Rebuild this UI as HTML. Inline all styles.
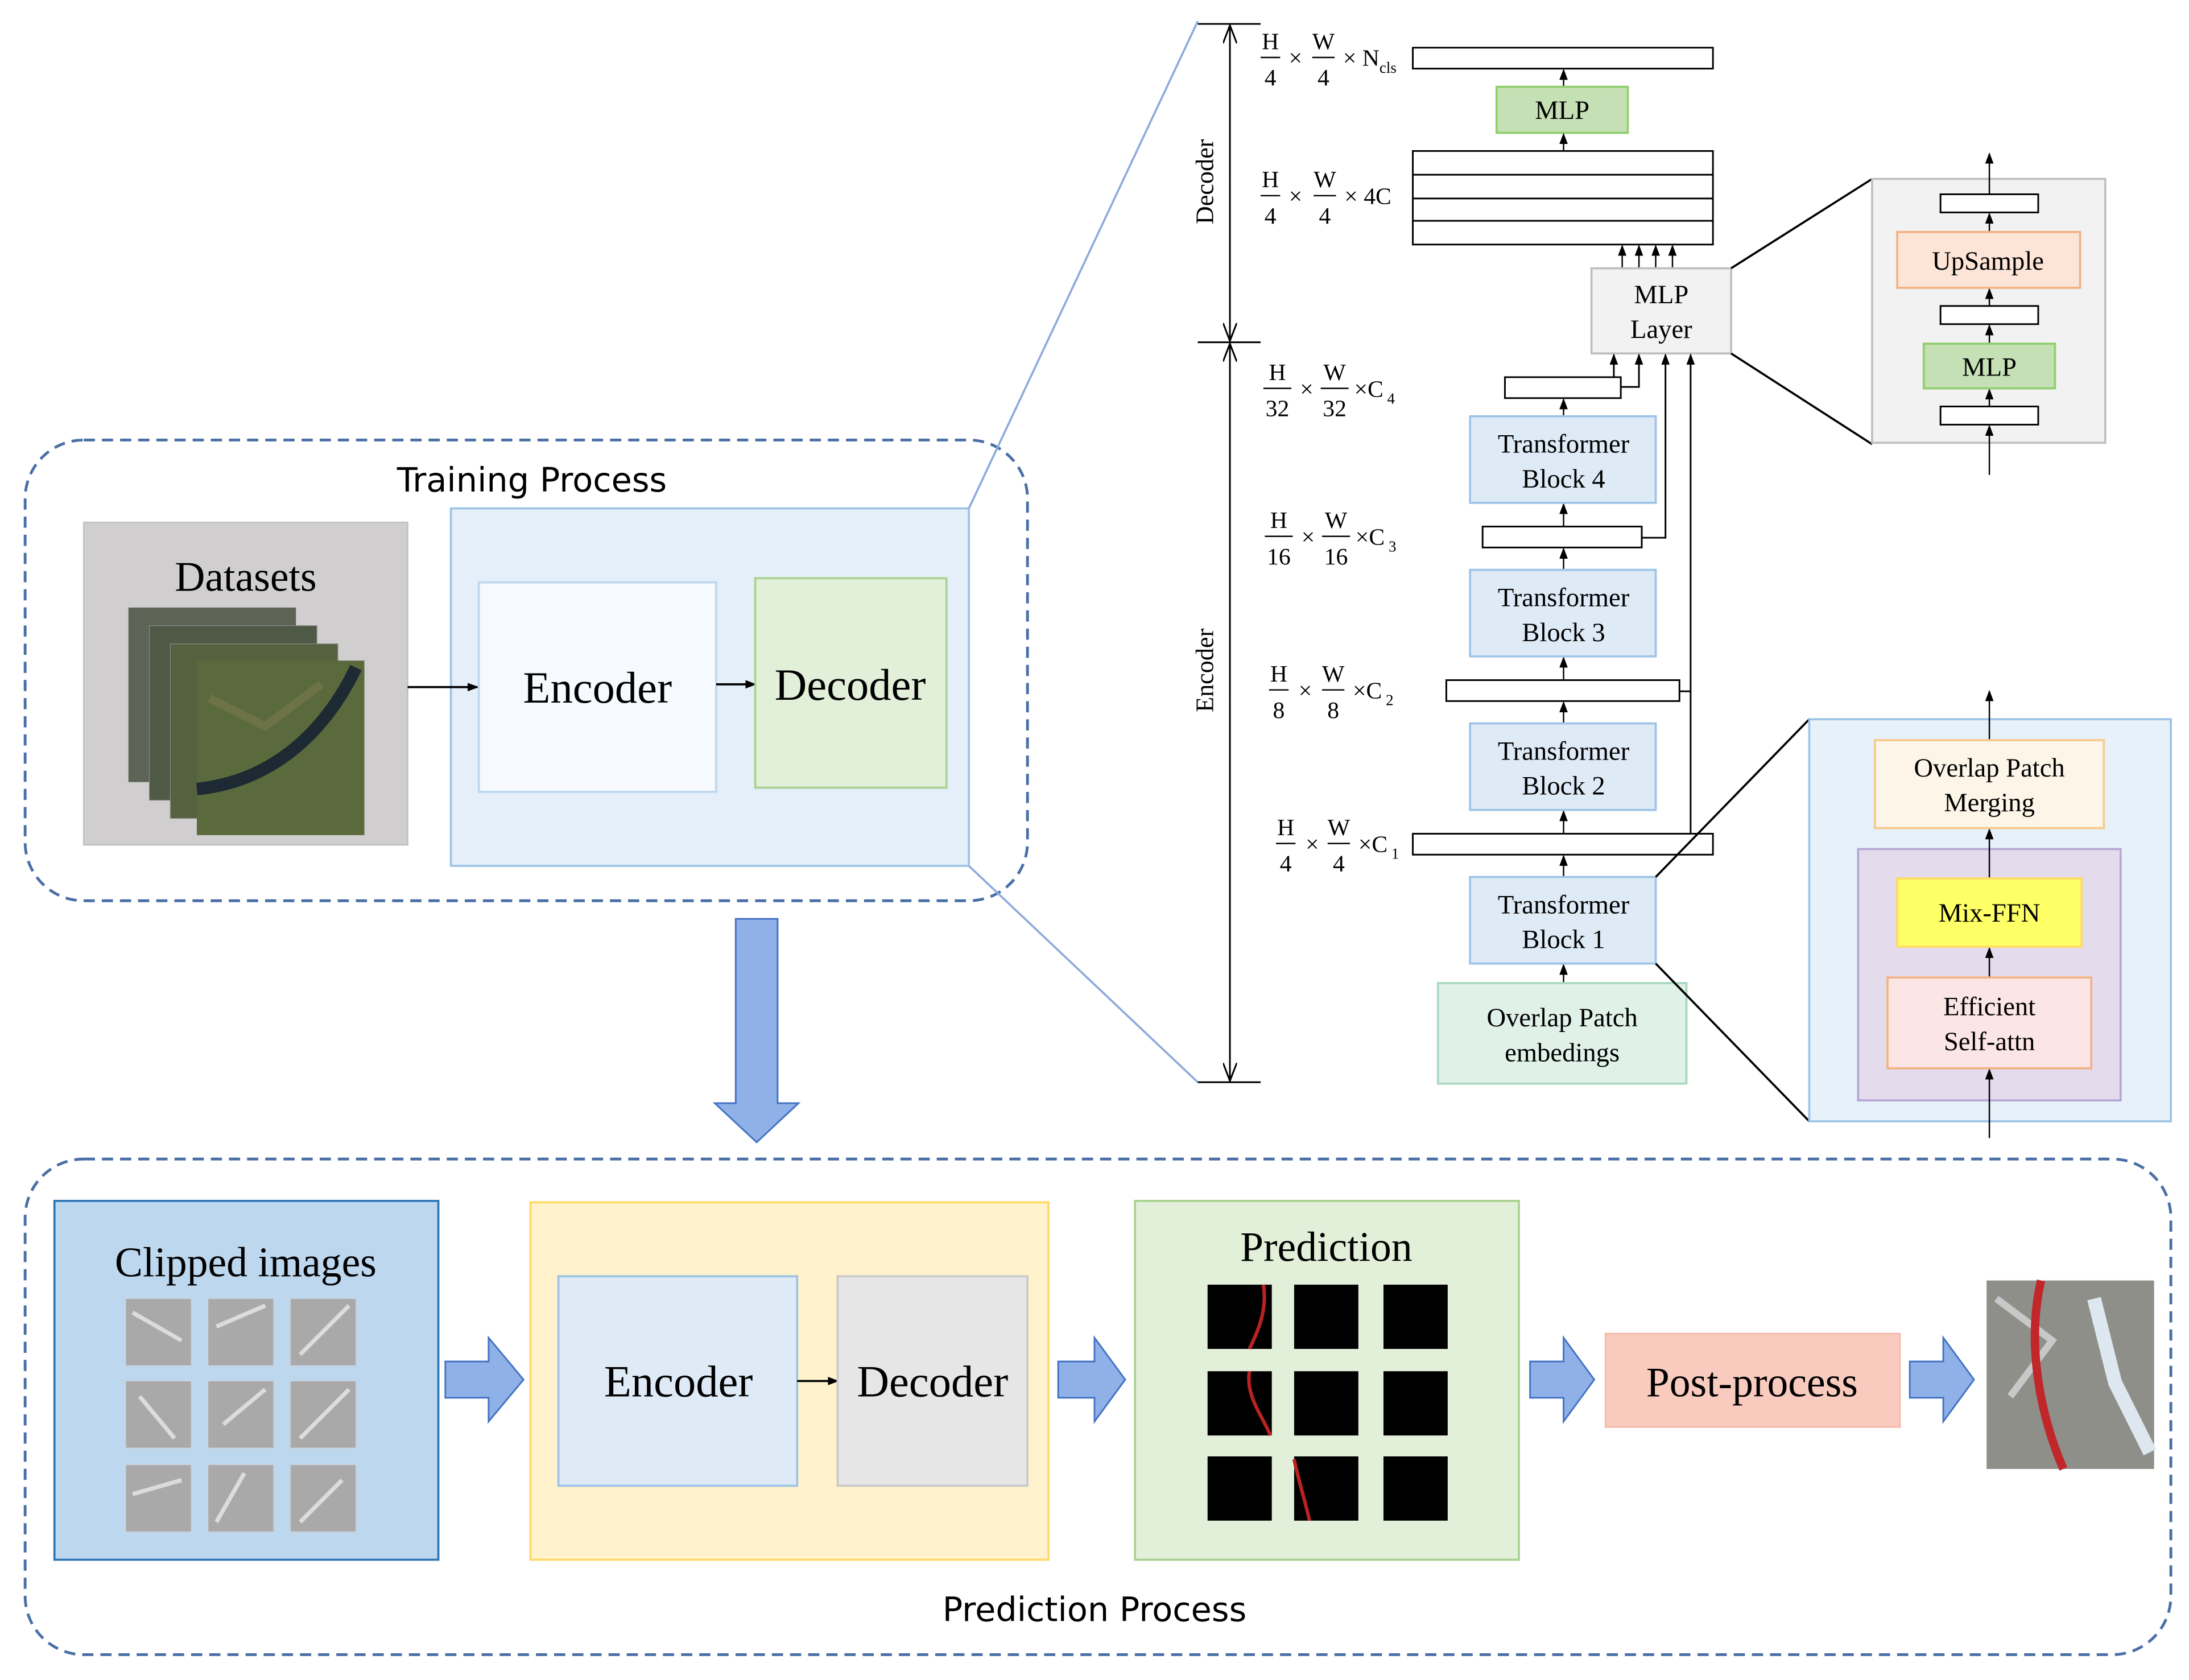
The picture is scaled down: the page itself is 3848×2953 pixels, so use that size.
<!DOCTYPE html>
<html><head><meta charset="utf-8"><style>
html,body{margin:0;padding:0;background:#fff}
svg{display:block}
.s{font-family:"Liberation Serif",serif}
.a{font-family:"DejaVu Sans","Liberation Sans",sans-serif}
</style></head><body>
<svg width="3848" height="2953" viewBox="0 0 1568 1203" xmlns="http://www.w3.org/2000/svg">
<defs>
<marker id="ar" markerWidth="8" markerHeight="8" refX="7" refY="4" orient="auto" markerUnits="userSpaceOnUse"><path d="M0,1 L8,4 L0,7 z" fill="#000"/></marker>
<marker id="ar2" markerWidth="14" markerHeight="10" refX="13" refY="5" orient="auto" markerUnits="userSpaceOnUse"><path d="M0,0 L13,5 L0,10" fill="none" stroke="#000" stroke-width="1.2"/></marker>
</defs>
<rect width="1568" height="1203" fill="#fff"/>

<!-- Training process -->
<rect x="18" y="315" width="718" height="330" rx="42" fill="none" stroke="#4a6fa5" stroke-width="2" stroke-dasharray="8,5"/>
<text x="381" y="352" class="a" font-size="24" text-anchor="middle">Training Process</text>
<rect x="60" y="374" width="232" height="231" fill="#d0cece" stroke="#bfbfbf"/>
<text x="176" y="423" class="s" font-size="30" text-anchor="middle">Datasets</text>
<g>
<rect x="92" y="435" width="120" height="125" fill="#5d6456"/>
<rect x="107" y="448" width="120" height="125" fill="#4e5a45" stroke="#888" stroke-width="0.5"/>
<rect x="122" y="461" width="120" height="125" fill="#56613f" stroke="#888" stroke-width="0.5"/>
<rect x="141" y="473" width="120" height="125" fill="#5a6a3c"/>
<path d="M141,565 C190,560 230,530 255,478" stroke="#1d2a33" stroke-width="9" fill="none"/>
<path d="M150,500 L190,520 L230,490" stroke="#7b7a4e" stroke-width="6" fill="none" opacity="0.6"/>
</g>
<rect x="323" y="364" width="371" height="256" fill="#e4effa" stroke="#9dc3e6" stroke-width="1.5"/>
<line x1="292" y1="492" x2="342" y2="492" stroke="#000" stroke-width="1.5" marker-end="url(#ar)"/>
<rect x="343" y="417" width="170" height="150" fill="#f6fafe" stroke="#bdd7ee" stroke-width="1.5"/>
<text x="428" y="503" class="s" font-size="32" text-anchor="middle">Encoder</text>
<line x1="513" y1="490" x2="541" y2="490" stroke="#000" stroke-width="1.5" marker-end="url(#ar)"/>
<rect x="541" y="414" width="137" height="150" fill="#e2efd9" stroke="#a9d18e" stroke-width="1.5"/>
<text x="609" y="501" class="s" font-size="32" text-anchor="middle">Decoder</text>
<line x1="694" y1="364" x2="858" y2="15" stroke="#8faadc" stroke-width="1.5"/>
<line x1="694" y1="620" x2="858" y2="775" stroke="#8faadc" stroke-width="1.5"/>

<polygon points="527,658 557,658 557,790 572,790 542,818 512,790 527,790" fill="#8fb1e8" stroke="#4472c4" stroke-width="1.2"/>

<!-- Prediction process -->
<rect x="18" y="830" width="1537" height="355" rx="42" fill="none" stroke="#4a6fa5" stroke-width="2" stroke-dasharray="8,5"/>
<text x="784" y="1161" class="a" font-size="24" text-anchor="middle">Prediction Process</text>
<rect x="39" y="860" width="275" height="257" fill="#bdd7ee" stroke="#2e75b6" stroke-width="1.5"/>
<text x="176" y="914" class="s" font-size="30" text-anchor="middle">Clipped images</text>
<g fill="#a9a9a9" stroke="#d0d0d0" stroke-width="0.5">
<rect x="90" y="930" width="47" height="48"/><rect x="149" y="930" width="47" height="48"/><rect x="208" y="930" width="47" height="48"/>
<rect x="90" y="989" width="47" height="48"/><rect x="149" y="989" width="47" height="48"/><rect x="208" y="989" width="47" height="48"/>
<rect x="90" y="1049" width="47" height="48"/><rect x="149" y="1049" width="47" height="48"/><rect x="208" y="1049" width="47" height="48"/>
</g>
<g stroke="#e8e8e8" stroke-width="3" fill="none" opacity="0.8">
<path d="M95,940 L130,960"/><path d="M155,950 L190,935"/><path d="M215,970 L250,935"/>
<path d="M100,1000 L125,1030"/><path d="M160,1020 L190,995"/><path d="M215,1030 L250,995"/>
<path d="M95,1070 L130,1060"/><path d="M155,1090 L175,1055"/><path d="M215,1090 L245,1060"/>
</g>
<polygon points="319,975 350,975 350,958 375,988 350,1018 350,1001 319,1001" fill="#8fb1e8" stroke="#4472c4" stroke-width="1.2"/>
<rect x="380" y="861" width="371" height="256" fill="#fff2cc" stroke="#ffd966" stroke-width="1.5"/>
<rect x="400" y="914" width="171" height="150" fill="#deebf7" stroke="#9dc3e6" stroke-width="1.5"/>
<text x="486" y="1000" class="s" font-size="32" text-anchor="middle">Encoder</text>
<line x1="571" y1="989" x2="600" y2="989" stroke="#000" stroke-width="1.5" marker-end="url(#ar)"/>
<rect x="600" y="914" width="136" height="150" fill="#e7e6e6" stroke="#c9c9c9" stroke-width="1.5"/>
<text x="668" y="1000" class="s" font-size="32" text-anchor="middle">Decoder</text>
<polygon points="758,975 784,975 784,958 806,988 784,1018 784,1001 758,1001" fill="#8fb1e8" stroke="#4472c4" stroke-width="1.2"/>
<rect x="813" y="860" width="275" height="257" fill="#e2efd9" stroke="#a9d18e" stroke-width="1.5"/>
<text x="950" y="903" class="s" font-size="30" text-anchor="middle">Prediction</text>
<g fill="#000">
<rect x="865" y="920" width="46" height="46"/><rect x="927" y="920" width="46" height="46"/><rect x="991" y="920" width="46" height="46"/>
<rect x="865" y="982" width="46" height="46"/><rect x="927" y="982" width="46" height="46"/><rect x="991" y="982" width="46" height="46"/>
<rect x="865" y="1043" width="46" height="46"/><rect x="927" y="1043" width="46" height="46"/><rect x="991" y="1043" width="46" height="46"/>
</g>
<g stroke="#b22" stroke-width="2.5" fill="none">
<path d="M905,920 C908,940 900,955 895,966"/><path d="M895,982 C892,1000 905,1015 910,1028"/><path d="M927,1045 C930,1060 935,1075 938,1089"/>
</g>
<polygon points="1096,975 1120,975 1120,958 1142,988 1120,1018 1120,1001 1096,1001" fill="#8fb1e8" stroke="#4472c4" stroke-width="1.2"/>
<rect x="1150" y="955" width="211" height="67" fill="#f9cbbf" stroke="#f4b6a6" stroke-width="1"/>
<text x="1255" y="1000" class="s" font-size="30" text-anchor="middle">Post-process</text>
<polygon points="1368,975 1392,975 1392,958 1414,988 1392,1018 1392,1001 1368,1001" fill="#8fb1e8" stroke="#4472c4" stroke-width="1.2"/>
<rect x="1423" y="917" width="120" height="135" fill="#8f8f8a"/>
<path d="M1430,930 L1470,960 L1440,1000" stroke="#c8c8c8" stroke-width="5" fill="none"/>
<path d="M1500,930 L1515,990 L1540,1040" stroke="#dce7ef" stroke-width="10" fill="none"/>
<path d="M1462,917 C1452,960 1460,1010 1478,1052" stroke="#c0262a" stroke-width="6" fill="none"/>

<!-- axis -->
<line x1="858" y1="17" x2="903" y2="17" stroke="#000" stroke-width="1.2"/>
<line x1="858" y1="245" x2="903" y2="245" stroke="#000" stroke-width="1.2"/>
<line x1="858" y1="775" x2="903" y2="775" stroke="#000" stroke-width="1.2"/>
<line x1="881" y1="130" x2="881" y2="18" stroke="#000" stroke-width="1.2" marker-end="url(#ar2)"/>
<line x1="881" y1="130" x2="881" y2="244" stroke="#000" stroke-width="1.2" marker-end="url(#ar2)"/>
<line x1="881" y1="500" x2="881" y2="246" stroke="#000" stroke-width="1.2" marker-end="url(#ar2)"/>
<line x1="881" y1="500" x2="881" y2="774" stroke="#000" stroke-width="1.2" marker-end="url(#ar2)"/>
<text transform="translate(869,130) rotate(-90)" class="s" font-size="18" text-anchor="middle">Decoder</text>
<text transform="translate(869,480) rotate(-90)" class="s" font-size="18" text-anchor="middle">Encoder</text>

<!-- Decoder stack -->
<rect x="1012" y="34" width="215" height="15" fill="#fff" stroke="#000" stroke-width="1.2"/>
<line x1="1120" y1="62" x2="1120" y2="50" stroke="#000" marker-end="url(#ar)"/>
<rect x="1072" y="62" width="94" height="33" fill="#c5e0b4" stroke="#8fcf6e" stroke-width="1.5"/>
<text x="1119" y="85" class="s" font-size="19" text-anchor="middle">MLP</text>
<line x1="1120" y1="108" x2="1120" y2="96" stroke="#000" marker-end="url(#ar)"/>
<rect x="1012" y="108" width="215" height="67" fill="#fff" stroke="#000" stroke-width="1.2"/>
<line x1="1012" y1="125" x2="1227" y2="125" stroke="#000" stroke-width="1.2"/>
<line x1="1012" y1="142" x2="1227" y2="142" stroke="#000" stroke-width="1.2"/>
<line x1="1012" y1="158" x2="1227" y2="158" stroke="#000" stroke-width="1.2"/>
<g stroke="#000">
<line x1="1162" y1="192" x2="1162" y2="176" marker-end="url(#ar)"/>
<line x1="1174" y1="192" x2="1174" y2="176" marker-end="url(#ar)"/>
<line x1="1186" y1="192" x2="1186" y2="176" marker-end="url(#ar)"/>
<line x1="1198" y1="192" x2="1198" y2="176" marker-end="url(#ar)"/>
</g>
<rect x="1140" y="192" width="100" height="61" fill="#f2f2f2" stroke="#bfbfbf" stroke-width="1.5"/>
<text x="1190" y="217" class="s" font-size="19" text-anchor="middle">MLP</text>
<text x="1190" y="242" class="s" font-size="19" text-anchor="middle">Layer</text>
<line x1="1240" y1="192" x2="1341" y2="128" stroke="#000" stroke-width="1.5"/>
<line x1="1240" y1="253" x2="1341" y2="318" stroke="#000" stroke-width="1.5"/>

<rect x="1341" y="128" width="167" height="189" fill="#f2f2f2" stroke="#bfbfbf" stroke-width="1.5"/>
<g stroke="#000">
<line x1="1425" y1="340" x2="1425" y2="305" marker-end="url(#ar)"/>
<line x1="1425" y1="291" x2="1425" y2="279" marker-end="url(#ar)"/>
<line x1="1425" y1="246" x2="1425" y2="233" marker-end="url(#ar)"/>
<line x1="1425" y1="219" x2="1425" y2="207" marker-end="url(#ar)"/>
<line x1="1425" y1="166" x2="1425" y2="153" marker-end="url(#ar)"/>
<line x1="1425" y1="139" x2="1425" y2="110" marker-end="url(#ar)"/>
</g>
<rect x="1390" y="139" width="70" height="13" fill="#fff" stroke="#000" stroke-width="1.2"/>
<rect x="1359" y="166" width="131" height="40" fill="#fce4d6" stroke="#f4b183" stroke-width="1.5"/>
<text x="1424" y="193" class="s" font-size="19" text-anchor="middle">UpSample</text>
<rect x="1390" y="219" width="70" height="13" fill="#fff" stroke="#000" stroke-width="1.2"/>
<rect x="1378" y="246" width="94" height="32" fill="#c5e0b4" stroke="#8fcf6e" stroke-width="1.5"/>
<text x="1425" y="269" class="s" font-size="19" text-anchor="middle">MLP</text>
<rect x="1390" y="291" width="70" height="13" fill="#fff" stroke="#000" stroke-width="1.2"/>

<!-- Encoder stack -->
<g stroke="#000" stroke-width="1.2">
<line x1="1156" y1="270" x2="1156" y2="254" marker-end="url(#ar)"/>
<polyline points="1161,277 1174,277 1174,254" fill="none" marker-end="url(#ar)"/>
<polyline points="1176,385 1193,385 1193,254" fill="none" marker-end="url(#ar)"/>
<polyline points="1203,495 1211,495 1211,254" fill="none" marker-end="url(#ar)"/>
<line x1="1211" y1="597" x2="1211" y2="495"/>
</g>
<rect x="1078" y="270" width="83" height="15" fill="#fff" stroke="#000" stroke-width="1.2"/>
<rect x="1062" y="377" width="114" height="15" fill="#fff" stroke="#000" stroke-width="1.2"/>
<rect x="1036" y="487" width="167" height="15" fill="#fff" stroke="#000" stroke-width="1.2"/>
<rect x="1012" y="597" width="215" height="15" fill="#fff" stroke="#000" stroke-width="1.2"/>
<g stroke="#000">
<line x1="1120" y1="298" x2="1120" y2="286" marker-end="url(#ar)"/>
<line x1="1120" y1="377" x2="1120" y2="361" marker-end="url(#ar)"/>
<line x1="1120" y1="408" x2="1120" y2="393" marker-end="url(#ar)"/>
<line x1="1120" y1="487" x2="1120" y2="471" marker-end="url(#ar)"/>
<line x1="1120" y1="518" x2="1120" y2="503" marker-end="url(#ar)"/>
<line x1="1120" y1="597" x2="1120" y2="581" marker-end="url(#ar)"/>
<line x1="1120" y1="628" x2="1120" y2="613" marker-end="url(#ar)"/>
<line x1="1120" y1="704" x2="1120" y2="691" marker-end="url(#ar)"/>
</g>
<g fill="#deebf7" stroke="#9dc3e6" stroke-width="1.5">
<rect x="1053" y="298" width="133" height="62"/>
<rect x="1053" y="408" width="133" height="62"/>
<rect x="1053" y="518" width="133" height="62"/>
<rect x="1053" y="628" width="133" height="62"/>
</g>
<g class="s" font-size="19" text-anchor="middle">
<text x="1120" y="324">Transformer</text><text x="1120" y="349">Block 4</text>
<text x="1120" y="434">Transformer</text><text x="1120" y="459">Block 3</text>
<text x="1120" y="544">Transformer</text><text x="1120" y="569">Block 2</text>
<text x="1120" y="654">Transformer</text><text x="1120" y="679">Block 1</text>
</g>
<rect x="1030" y="704" width="178" height="72" fill="#dff1e8" stroke="#a8d8c0" stroke-width="1.5"/>
<text x="1119" y="735" class="s" font-size="19" text-anchor="middle">Overlap Patch</text>
<text x="1119" y="760" class="s" font-size="19" text-anchor="middle">embedings</text>
<line x1="1186" y1="628" x2="1296" y2="515" stroke="#000" stroke-width="1.5"/>
<line x1="1186" y1="690" x2="1296" y2="803" stroke="#000" stroke-width="1.5"/>

<rect x="1296" y="515" width="259" height="288" fill="#e6f1fa" stroke="#9dc3e6" stroke-width="1.5"/>
<rect x="1331" y="608" width="188" height="180" fill="#e4dcec" stroke="#b4a7d6" stroke-width="1.5"/>
<g stroke="#000">
<line x1="1425" y1="815" x2="1425" y2="766" marker-end="url(#ar)"/>
<line x1="1425" y1="700" x2="1425" y2="679" marker-end="url(#ar)"/>
<line x1="1425" y1="629" x2="1425" y2="594" marker-end="url(#ar)"/>
<line x1="1425" y1="530" x2="1425" y2="495" marker-end="url(#ar)"/>
</g>
<rect x="1343" y="530" width="164" height="63" fill="#fdf6e8" stroke="#f6c98b" stroke-width="1.5"/>
<text x="1425" y="556" class="s" font-size="19" text-anchor="middle">Overlap Patch</text>
<text x="1425" y="581" class="s" font-size="19" text-anchor="middle">Merging</text>
<rect x="1359" y="629" width="132" height="49" fill="#ffff66" stroke="#ffd966" stroke-width="1.5"/>
<text x="1425" y="660" class="s" font-size="19" text-anchor="middle">Mix-FFN</text>
<rect x="1352" y="700" width="146" height="65" fill="#fbe5e5" stroke="#f4b183" stroke-width="1.5"/>
<text x="1425" y="727" class="s" font-size="19" text-anchor="middle">Efficient</text>
<text x="1425" y="752" class="s" font-size="19" text-anchor="middle">Self-attn</text>

<!-- Dimension labels -->
<g class="s" font-size="17" text-anchor="middle">
<text x="910" y="35">H</text><line x1="903" y1="41" x2="917" y2="41" stroke="#000"/><text x="910" y="61">4</text>
<text x="928" y="47">×</text>
<text x="948" y="35">W</text><line x1="940" y1="41" x2="956" y2="41" stroke="#000"/><text x="948" y="61">4</text>
<text x="962" y="47" text-anchor="start">× N<tspan font-size="11" dy="5">cls</tspan></text>

<text x="910" y="134">H</text><line x1="903" y1="140" x2="917" y2="140" stroke="#000"/><text x="910" y="160">4</text>
<text x="928" y="146">×</text>
<text x="949" y="134">W</text><line x1="941" y1="140" x2="957" y2="140" stroke="#000"/><text x="949" y="160">4</text>
<text x="963" y="146" text-anchor="start">× 4C</text>

<text x="915" y="272">H</text><line x1="905" y1="278" x2="925" y2="278" stroke="#000"/><text x="915" y="298">32</text>
<text x="936" y="284">×</text>
<text x="956" y="272">W</text><line x1="946" y1="278" x2="966" y2="278" stroke="#000"/><text x="956" y="298">32</text>
<text x="970" y="284" text-anchor="start">×C<tspan font-size="11" dy="5"> 4</tspan></text>

<text x="916" y="378">H</text><line x1="906" y1="384" x2="926" y2="384" stroke="#000"/><text x="916" y="404">16</text>
<text x="937" y="390">×</text>
<text x="957" y="378">W</text><line x1="947" y1="384" x2="967" y2="384" stroke="#000"/><text x="957" y="404">16</text>
<text x="971" y="390" text-anchor="start">×C<tspan font-size="11" dy="5"> 3</tspan></text>

<text x="916" y="488">H</text><line x1="909" y1="494" x2="923" y2="494" stroke="#000"/><text x="916" y="514">8</text>
<text x="935" y="500">×</text>
<text x="955" y="488">W</text><line x1="947" y1="494" x2="963" y2="494" stroke="#000"/><text x="955" y="514">8</text>
<text x="969" y="500" text-anchor="start">×C<tspan font-size="11" dy="5"> 2</tspan></text>

<text x="921" y="598">H</text><line x1="914" y1="604" x2="928" y2="604" stroke="#000"/><text x="921" y="624">4</text>
<text x="940" y="610">×</text>
<text x="959" y="598">W</text><line x1="951" y1="604" x2="967" y2="604" stroke="#000"/><text x="959" y="624">4</text>
<text x="973" y="610" text-anchor="start">×C<tspan font-size="11" dy="5"> 1</tspan></text>
</g>
</svg>
</body></html>
